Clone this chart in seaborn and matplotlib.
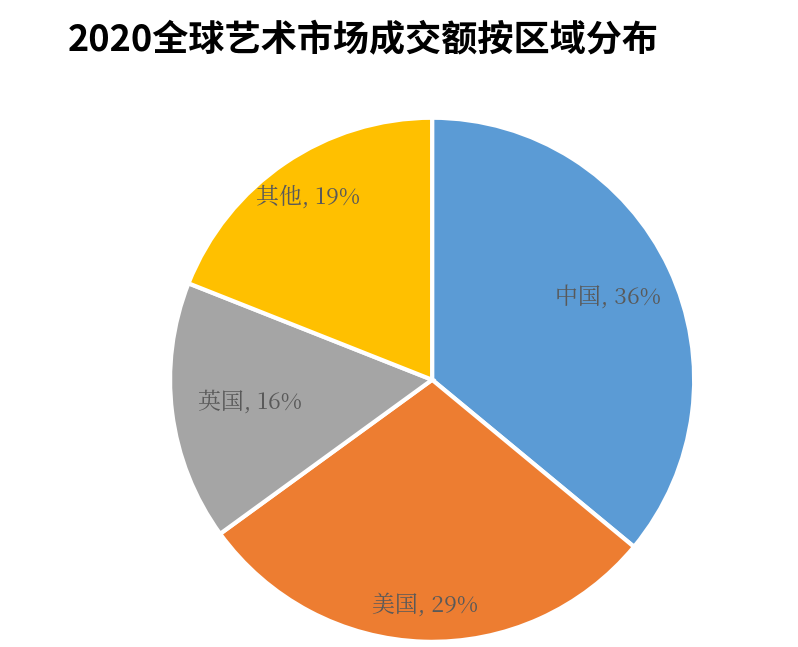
import matplotlib
matplotlib.use("Agg")
import matplotlib.pyplot as plt
import numpy as np
import seaborn as sns

regions = ["中国", "美国", "英国", "其他"]
shares = [36, 29, 16, 19]
colors = ["#5B9BD5", "#ED7D31", "#A5A5A5", "#FFC000"]
label_dist = [0.74, 0.86, 0.70, 0.84]

sns.set_style("white")
plt.rcParams['font.family'] = ['Noto Sans CJK SC', 'DejaVu Sans']

fig = plt.figure(figsize=(7.98, 6.47), dpi=100)
ax = fig.add_axes([0.213, 0.008, 0.657, 0.81])

wedges, texts = ax.pie(shares, colors=colors, startangle=90, counterclock=False,
                       wedgeprops=dict(edgecolor="white", linewidth=3))
for w, name, val, r in zip(wedges, regions, shares, label_dist):
    ang = np.deg2rad((w.theta1 + w.theta2) / 2)
    ax.text(r * np.cos(ang), r * np.sin(ang), f"{name}, {val}%",
            ha="center", va="center", fontsize=16.5, color="#595959",
            family=['Noto Serif CJK SC', 'Noto Sans CJK SC', 'DejaVu Sans'])
ax.set_xlim(-1, 1)
ax.set_ylim(-1, 1)
ax.set_aspect("equal")

fig.text(0.085, 0.937, "2020全球艺术市场成交额按区域分布", fontsize=26,
         fontweight="bold", color="black", ha="left", va="center")

fig.savefig("out.png", dpi=100)
